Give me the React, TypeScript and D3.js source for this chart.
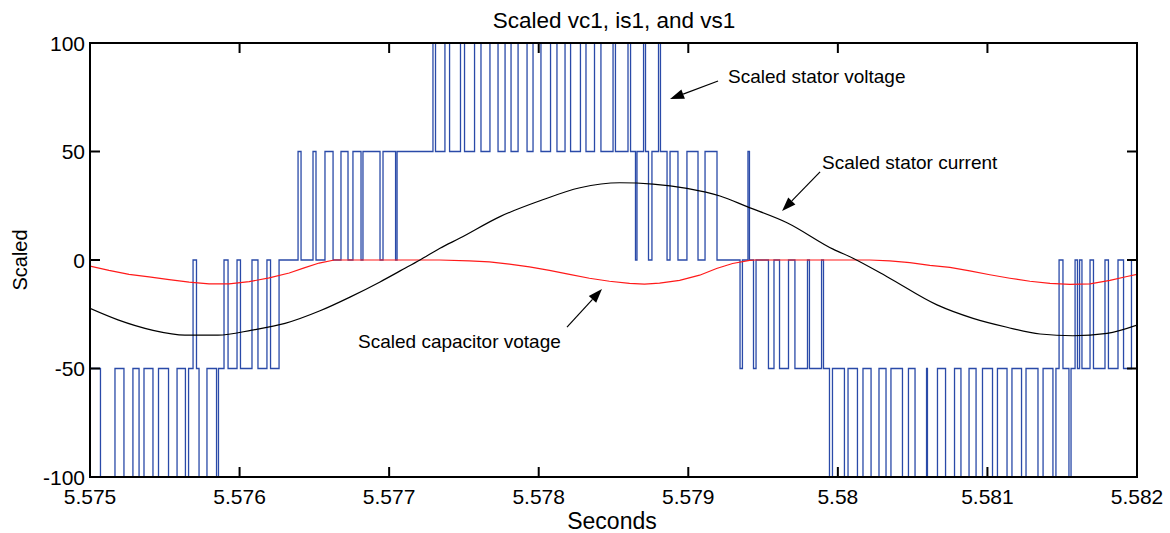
import React from "react";
import * as d3 from "d3";

const xTicks = [5.575, 5.576, 5.577, 5.578, 5.579, 5.58, 5.581, 5.582];
const xTickLabels = ["5.575", "5.576", "5.577", "5.578", "5.579", "5.58", "5.581", "5.582"];
const yTicks = [100, 50, 0, -50, -100];
const yTickLabels = ["100", "50", "0", "-50", "-100"];

// Scaled stator voltage (blue, stepped PWM): switching instants and the level held after each
const vsTimes = [
  5.575, 5.57507, 5.575167, 5.575227, 5.575287, 5.575328, 5.575361, 5.575421, 5.575458, 5.575525,
  5.575582, 5.575638, 5.575659, 5.575689, 5.575712, 5.575729, 5.575782, 5.575846, 5.575859, 5.575896,
  5.575923, 5.575983, 5.576006, 5.576083, 5.576123, 5.576183, 5.576207, 5.576264, 5.576391, 5.576411,
  5.576491, 5.576511, 5.576571, 5.576625, 5.576678, 5.576725, 5.576758, 5.576812, 5.576825, 5.576939,
  5.576959, 5.577043, 5.577053, 5.577293, 5.57731, 5.577373, 5.577404, 5.577477, 5.577504, 5.577571,
  5.577614, 5.577674, 5.577728, 5.577775, 5.577815, 5.577862, 5.577922, 5.577962, 5.578015, 5.578079,
  5.578122, 5.578176, 5.578213, 5.578279, 5.578316, 5.578373, 5.578416, 5.578497, 5.578513, 5.578597,
  5.578614, 5.578647, 5.578657, 5.578701, 5.578714, 5.578734, 5.578757, 5.578801, 5.578814, 5.578858,
  5.578878, 5.578931, 5.578991, 5.579065, 5.579112, 5.579192, 5.579346, 5.579362, 5.579399, 5.579409,
  5.579436, 5.579453, 5.579536, 5.579573, 5.57961, 5.57967, 5.579713, 5.579797, 5.57981, 5.579891,
  5.579904, 5.579944, 5.579964, 5.580044, 5.580068, 5.580131, 5.580168, 5.580222, 5.580275, 5.580322,
  5.580355, 5.580432, 5.580472, 5.580516, 5.580593, 5.580599, 5.580666, 5.58072, 5.58078, 5.580823,
  5.580877, 5.580924, 5.580967, 5.581034, 5.581067, 5.581131, 5.581164, 5.581228, 5.581258, 5.581338,
  5.581372, 5.581438, 5.581458, 5.581479, 5.581505, 5.581545, 5.581559, 5.581586, 5.581602, 5.581616,
  5.581632, 5.581686, 5.581709, 5.581786, 5.581809, 5.581873, 5.58191, 5.581963,
];
const vsLevels = [
  -50, -100, -50, -100, -50, -100, -50, -100, -50, -100,
  -50, -100, -50, 0, -50, -100, -50, -100, -50, 0,
  -50, 0, -50, 0, -50, 0, -50, 0, 50, 0,
  50, 0, 50, 0, 50, 0, 50, 0, 50, 0,
  50, 0, 50, 100, 50, 100, 50, 100, 50, 100,
  50, 100, 50, 100, 50, 100, 50, 100, 50, 100,
  50, 100, 50, 100, 50, 100, 50, 100, 50, 100,
  50, 0, 50, 100, 50, 0, 50, 100, 50, 0,
  50, 0, 50, 0, 50, 0, -50, 0, 50, 0,
  -50, 0, -50, 0, -50, 0, -50, 0, -50, 0,
  -50, -100, -50, -100, -50, -100, -50, -100, -50, -100,
  -50, -100, -50, -100, -50, -100, -50, -100, -50, -100,
  -50, -100, -50, -100, -50, -100, -50, -100, -50, -100,
  -50, -100, -50, 0, -50, -100, -50, 0, -50, 0,
  -50, 0, -50, 0, -50, 0, -50, 0,
];
const vsEnd = 5.582;

// Scaled stator current (black)
const isTimes = [
  5.575, 5.575187, 5.575415, 5.575635, 5.575856, 5.576083, 5.576304, 5.576538, 5.576738, 5.576939,
  5.577093, 5.577206, 5.57734, 5.577474, 5.577741, 5.578009, 5.578276, 5.578543, 5.578764, 5.578991,
  5.579212, 5.579393, 5.57966, 5.579968, 5.580101, 5.580329, 5.580663, 5.580904, 5.581131, 5.581352,
  5.581572, 5.5818, 5.582,
];
const isValues = [
  -22.3, -27.6, -32.3, -34.6, -34.6, -32.3, -29.2, -23.4, -17.1, -10.1,
  -4.3, 0, 5.4, 10.1, 20, 27.3, 33.3, 35.6, 35, 33,
  29.5, 24.6, 17.2, 5.0, 0.8, -7.7, -20.7, -26.9, -31.0, -34.1,
  -34.9, -33.8, -30.0,
];

// Scaled capacitor voltage (red)
const vcTimes = [
  5.575, 5.575127, 5.575261, 5.575395, 5.575529, 5.575663, 5.575796, 5.57593, 5.576064, 5.576198,
  5.576332, 5.576432, 5.576532, 5.576633, 5.577336, 5.577536, 5.57767, 5.577804, 5.577938, 5.578072,
  5.578206, 5.578339, 5.578473, 5.578607, 5.578707, 5.578808, 5.578942, 5.579076, 5.579189, 5.579296,
  5.57941, 5.57945, 5.580213, 5.580347, 5.580481, 5.580615, 5.580749, 5.580882, 5.581016, 5.58115,
  5.581284, 5.581418, 5.581552, 5.581686, 5.581819, 5.581933, 5.582,
];
const vcValues = [
  -2.8, -4.8, -6.6, -7.8, -9.0, -10.2, -11.0, -11.0, -10.0, -8.2,
  -6.0, -3.6, -1.4, 0, 0, -0.4, -0.9, -1.9, -3.2, -4.8,
  -6.6, -8.4, -9.8, -10.8, -11.1, -10.7, -9.4, -7.0, -3.9, -1.6,
  -0.2, 0, 0, -0.4, -1.2, -2.5, -3.4, -5.0, -6.8, -8.4,
  -9.8, -10.8, -11.2, -11.0, -9.4, -7.6, -6.6,
];

const annotationTexts = ["Scaled stator voltage", "Scaled stator current", "Scaled capacitor votage"];
const annotationAnchors: [number, number][] = [[5.579266, 84.8], [5.579894, 45.2], [5.576792, -37.3]];
const arrowTails: [number, number][] = [[5.579199, 82.5], [5.579881, 40.6], [5.578189, -30.9]];
const arrowHeads: [number, number][] = [[5.578878, 74.2], [5.579627, 22.6], [5.578423, -13.4]];

const W = 1170;
const H = 533;
const M = { left: 90, right: 33, top: 43, bottom: 56 };

export default function App() {
  const x = d3.scaleLinear().domain([5.575, 5.582]).range([M.left, W - M.right]);
  const y = d3.scaleLinear().domain([-100, 100]).range([H - M.bottom, M.top]);

  const vsPts: [number, number][] = vsTimes.map((t, i) => [t, vsLevels[i]]);
  vsPts.push([vsEnd, vsLevels[vsLevels.length - 1]]);
  const stepLine = d3
    .line<[number, number]>()
    .x((d) => x(d[0]))
    .y((d) => y(d[1]))
    .curve(d3.curveStepAfter);

  const smoothLine = d3
    .line<[number, number]>()
    .x((d) => x(d[0]))
    .y((d) => y(d[1]))
    .curve(d3.curveMonotoneX);
  const linLine = d3
    .line<[number, number]>()
    .x((d) => x(d[0]))
    .y((d) => y(d[1]));

  const isPts: [number, number][] = isTimes.map((t, i) => [t, isValues[i]]);
  const vcPts: [number, number][] = vcTimes.map((t, i) => [t, vcValues[i]]);

  const x0 = M.left;
  const x1 = W - M.right;
  const y0 = M.top;
  const y1 = H - M.bottom;
  const tick = 10;
  const font = "Arial, 'Liberation Sans', Helvetica, sans-serif";

  const arrows = arrowTails.map((tail, i) => {
    const hx = x(arrowHeads[i][0]);
    const hy = y(arrowHeads[i][1]);
    const tx = x(tail[0]);
    const ty = y(tail[1]);
    const dx = hx - tx;
    const dy = hy - ty;
    const len = Math.sqrt(dx * dx + dy * dy);
    const ux = dx / len;
    const uy = dy / len;
    const hl = 14;
    const hw = 5;
    const bx = hx - ux * hl;
    const by = hy - uy * hl;
    const p1 = [bx - uy * hw, by + ux * hw];
    const p2 = [bx + uy * hw, by - ux * hw];
    return (
      <g key={"a" + i}>
        <line x1={tx} y1={ty} x2={bx} y2={by} stroke="#000" strokeWidth={1.2} />
        <polygon points={`${hx},${hy} ${p1[0]},${p1[1]} ${p2[0]},${p2[1]}`} fill="#000" />
      </g>
    );
  });

  return (
    <svg
      width={W}
      height={H}
      style={{ position: "absolute", left: 0, top: 0, background: "#fff" }}
      fontFamily={font}
    >
      <rect x={0} y={0} width={W} height={H} fill="#fff" />
      <defs>
        <clipPath id="plotclip">
          <rect x={x0} y={y0 - 1} width={x1 - x0} height={y1 - y0 + 2} />
        </clipPath>
      </defs>
      <g clipPath="url(#plotclip)">
        <path d={stepLine(vsPts) || ""} fill="none" stroke="#2a4aa8" strokeWidth={1.3} />
        <path d={linLine(vcPts) || ""} fill="none" stroke="#ff1a1a" strokeWidth={1.2} />
        <path d={smoothLine(isPts) || ""} fill="none" stroke="#000" strokeWidth={1.2} />
      </g>
      <rect x={x0} y={y0} width={x1 - x0} height={y1 - y0} fill="none" stroke="#000" strokeWidth={2} />
      {xTicks.map((t, i) => (
        <g key={"xt" + i}>
          <line x1={x(t)} x2={x(t)} y1={y1} y2={y1 - tick} stroke="#000" strokeWidth={2} />
          <line x1={x(t)} x2={x(t)} y1={y0} y2={y0 + tick} stroke="#000" strokeWidth={2} />
          <text x={x(t)} y={y1 + 27} textAnchor="middle" fontSize={21} fill="#000">
            {xTickLabels[i]}
          </text>
        </g>
      ))}
      {yTicks.map((v, i) => (
        <g key={"yt" + i}>
          <line x1={x0} x2={x0 + tick} y1={y(v)} y2={y(v)} stroke="#000" strokeWidth={2} />
          <line x1={x1} x2={x1 - tick} y1={y(v)} y2={y(v)} stroke="#000" strokeWidth={2} />
          <text x={x0 - 5} y={y(v)} dy="0.36em" textAnchor="end" fontSize={21} fill="#000">
            {yTickLabels[i]}
          </text>
        </g>
      ))}
      <text x={614} y={28} textAnchor="middle" fontSize={22.5} fill="#000">
        Scaled vc1, is1, and vs1
      </text>
      <text x={612} y={529} textAnchor="middle" fontSize={23} fill="#000">
        Seconds
      </text>
      <text
        transform={`translate(27, ${(y0 + y1) / 2}) rotate(-90)`}
        textAnchor="middle"
        fontSize={20}
        fill="#000"
      >
        Scaled
      </text>
      {annotationTexts.map((s, i) => (
        <text
          key={"an" + i}
          x={x(annotationAnchors[i][0])}
          y={y(annotationAnchors[i][1])}
          dy="0.36em"
          fontSize={19}
          fill="#000"
        >
          {s}
        </text>
      ))}
      {arrows}
    </svg>
  );
}
